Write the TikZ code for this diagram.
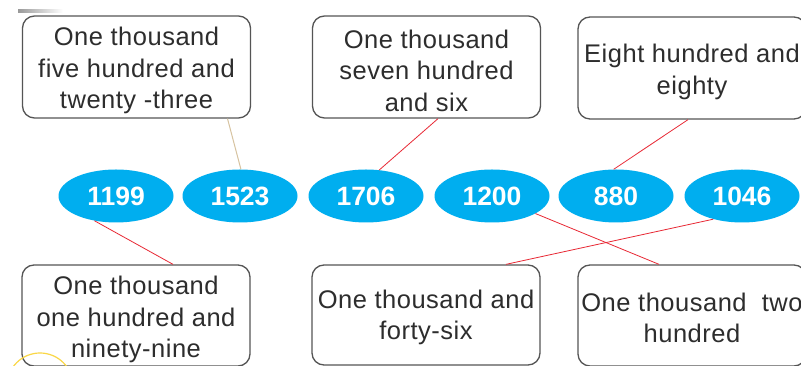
\documentclass[tikz,border=0pt]{standalone}
\usepackage{fontspec}
\setmainfont{Liberation Sans}
\newfontfamily\boxfont[LetterSpace=2]{Liberation Sans}
\usetikzlibrary{shapes.geometric,calc}
\definecolor{ecyan}{RGB}{0,174,239}
\definecolor{lred}{RGB}{232,40,52}
\definecolor{ltan}{RGB}{215,195,160}
\definecolor{bgray}{RGB}{85,85,85}
\definecolor{tgray}{RGB}{45,45,45}
\definecolor{ayellow}{RGB}{250,215,70}
\tikzset{
  numnode/.style={ellipse, fill=ecyan, draw=none, minimum width=115pt, minimum height=53pt, inner sep=0pt,
    text=white, font=\fontsize{26.5}{30}\selectfont\bfseries},
  labelbox/.style={draw=bgray, line width=1.3pt, rounded corners=12pt, fill=white,
    minimum width=228pt, inner sep=0pt},
  boxtext/.style={align=center, inner sep=0pt, text=tgray, font=\boxfont\fontsize{25.5}{31.5}\selectfont},
  redline/.style={draw=lred, line width=0.8pt},
  tanline/.style={draw=ltan, line width=1pt}
}
\begin{document}
\begin{tikzpicture}[x=1pt,y=1pt]
\useasboundingbox (0,0) rectangle (801,366);
\fill[white] (0,0) rectangle (801,366);
\clip (0,0) rectangle (801,366);
% decorative artifact
\shade[left color=gray!80, right color=white] (18,353) rectangle (63,356);
% ellipses
\node[numnode] (e1199) at (116,170) {1199};
\node[numnode] (e1523) at (240,170) {1523};
\node[numnode] (e1706) at (366,170) {1706};
\node[numnode] (e1200) at (492,170) {1200};
\node[numnode] (e880)  at (616,170) {880};
\node[numnode] (e1046) at (742,170) {1046};
% top boxes
\node[labelbox, minimum height=102pt] (b1) at (136.5,299) {};
\node[labelbox, minimum height=102pt] (b2) at (426.5,299) {};
\node[labelbox, minimum height=102pt] (b3) at (692,298) {};
% bottom boxes
\node[labelbox, minimum height=101pt] (b4) at (136,50.5) {};
\node[labelbox, minimum height=100pt] (b5) at (426,51) {};
\node[labelbox, minimum height=101pt] (b6) at (692,50.5) {};
% box texts
\node[boxtext] (t1) at ($(b1.center)+(0,-3.5)$) {One thousand\\five hundred and\\twenty -three};
\node[boxtext] (t2) at ($(b2.center)+(0,-3.5)$) {One thousand\\seven hundred\\and six};
\node[boxtext] (t3) at ($(b3.center)+(0,-4)$) {Eight hundred and\\eighty};
\node[boxtext] (t4) at ($(b4.center)+(0,-4)$) {One thousand\\one hundred and\\ninety-nine};
\node[boxtext] (t5) at ($(b5.center)+(0,-2.5)$) {One thousand and\\forty-six};
\node[boxtext] (t6) at ($(b6.center)+(0,-2.5)$) {One thousand\ \ two\\hundred};
% connectors
\draw[tanline] ($(b1.south)+(91,0)$) -- (e1523.88);
\draw[redline] ($(b2.south)+(11.5,0)$) -- (e1706.63);
\draw[redline] ($(b3.south)+(-4,0)$) -- (e880.95);
\draw[redline] (e1199.229) -- ($(b4.north)+(37,0)$);
\draw[redline] (e1200.-22) -- ($(b6.north)+(-33,0)$);
\draw[redline] (e1046.219) -- ($(b5.north)+(80,0)$);
% decorative yellow arc at bottom left
\draw[ayellow, line width=1.2pt] (40,-20) circle (33pt);
\end{tikzpicture}
\end{document}
